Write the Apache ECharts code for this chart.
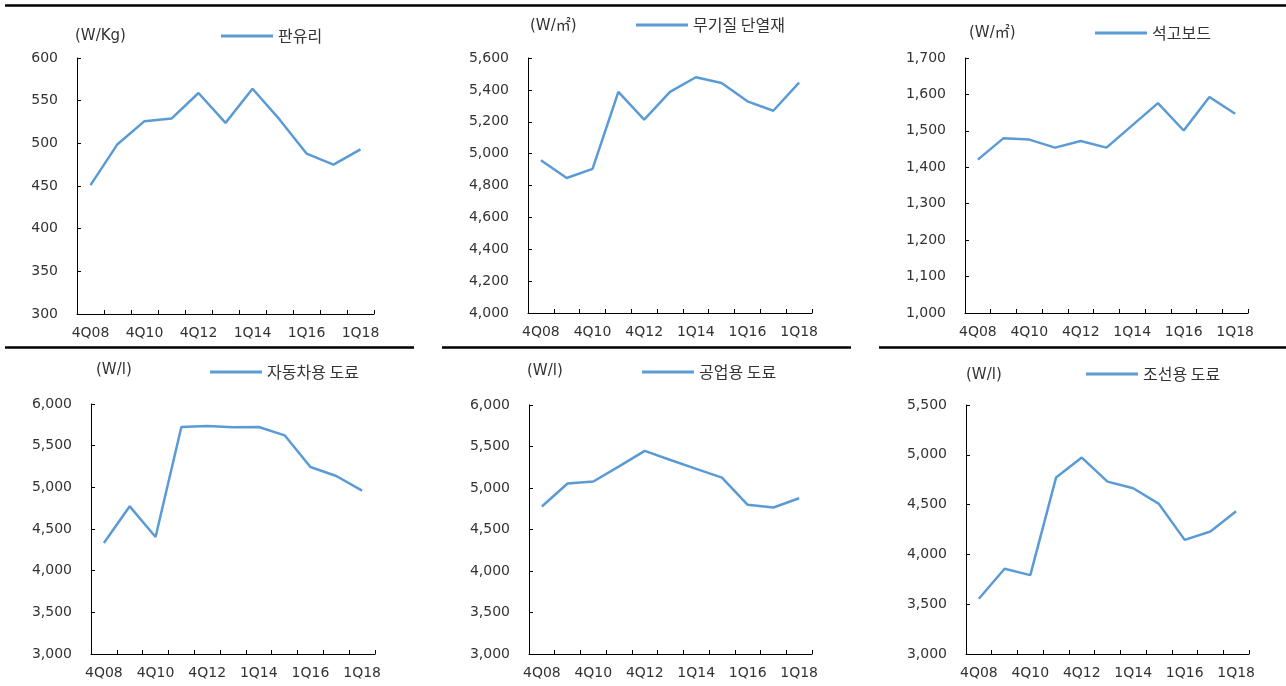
<!DOCTYPE html>
<html>
<head>
<meta charset="utf-8">
<script src="https://cdn.jsdelivr.net/npm/echarts@6/dist/echarts.min.js"></script>
<style>
  html, body { margin: 0; padding: 0; background: #fff; }
  #myCharts { width: 1286px; height: 686px; }
</style>
</head>
<body>
<div id="myCharts"></div>
<script>
// 분기 (라벨은 하나 걸러 표시)
const categories = ["4Q08", "4Q09", "4Q10", "4Q11", "4Q12", "2Q13", "1Q14", "3Q14", "1Q16", "3Q16", "1Q18"];

// 패널별 데이터
const glass = [451, 499, 526, 529, 559, 524, 564, 528, 488, 475, 493];          // 판유리
const insulation = [4958, 4847, 4904, 5387, 5213, 5387, 5479, 5443, 5328, 5269, 5445]; // 무기질 단열재
const gypsum = [1421, 1480, 1476, 1454, 1472, 1454, 1515, 1576, 1501, 1593, 1547];   // 석고보드
const autoPaint = [4332, 4772, 4404, 5724, 5736, 5720, 5724, 5624, 5244, 5136, 4960]; // 자동차용 도료
const industPaint = [4777, 5054, 5078, 5260, 5447, 5338, 5230, 5125, 4797, 4765, 4877]; // 공업용 도료
const shipPaint = [3555, 3856, 3792, 4771, 4972, 4731, 4664, 4507, 4146, 4230, 4434];  // 조선용 도료

const seriesNames = ["판유리", "무기질 단열재", "석고보드", "자동차용 도료", "공업용 도료", "조선용 도료"];
const seriesData = [glass, insulation, gypsum, autoPaint, industPaint, shipPaint];
const units = ["(W/Kg)", "(W/㎡)", "(W/㎡)", "(W/l)", "(W/l)", "(W/l)"];
const yMin = [300, 4000, 1000, 3000, 3000, 3000];
const yMax = [600, 5600, 1700, 6000, 6000, 5500];
const yStep = [50, 200, 100, 500, 500, 500];

const myCharts = echarts.init(document.getElementById("myCharts"));

// 위치
const grids = [
  { left: 77, top: 58, width: 297, height: 256 },
  { left: 528, top: 58, width: 284, height: 255 },
  { left: 965, top: 58, width: 283, height: 255 },
  { left: 91, top: 404, width: 284, height: 250 },
  { left: 529, top: 405, width: 283, height: 249 },
  { left: 966, top: 405, width: 283, height: 249 },
];
const unitPos = [[75, 29], [530, 19], [969, 26], [96, 363], [527, 364], [966, 368]];
const legendPos = [[221, 28], [636, 17], [1095, 25], [210, 364], [642, 364], [1086, 366]];

const numFont = "DejaVu Sans";
const krFont = "'Noto Sans CJK KR', 'DejaVu Sans', sans-serif";
const lineColor = "#5B9BD5";
const textColor = "#333";

let option = {
  animation: false,
  title: units.map((u, i) => ({
    text: u,
    left: unitPos[i][0],
    top: unitPos[i][1],
    padding: 0,
    textStyle: { fontFamily: "'DejaVu Sans', 'Noto Sans CJK KR'", fontSize: 15, fontWeight: "normal", color: textColor },
  })),
  legend: seriesNames.map((n, i) => ({
    data: [n],
    left: legendPos[i][0],
    top: legendPos[i][1],
    padding: 0,
    icon: "rect",
    itemWidth: 52,
    itemHeight: 3,
    textStyle: { fontFamily: krFont, fontSize: 16, color: textColor },
  })),
  grid: grids,
  xAxis: grids.map((g, i) => ({
    type: "category",
    gridIndex: i,
    data: categories,
    boundaryGap: true,
    axisLine: { lineStyle: { color: "#000", width: 1 } },
    axisTick: { show: true, inside: true, length: 4, interval: 0, lineStyle: { color: "#000" } },
    axisLabel: { interval: 1, margin: 12, fontFamily: numFont, fontSize: 14, color: textColor },
    splitLine: { show: false },
  })),
  yAxis: grids.map((g, i) => ({
    type: "value",
    gridIndex: i,
    min: yMin[i],
    max: yMax[i],
    interval: yStep[i],
    axisLine: { show: true, lineStyle: { color: "#000", width: 1 } },
    axisTick: { show: true, inside: true, length: 4, lineStyle: { color: "#000" } },
    axisLabel: {
      margin: 19,
      fontFamily: numFont,
      fontSize: 14,
      color: textColor,
      formatter: (v) => v.toLocaleString("en-US"),
    },
    splitLine: { show: false },
  })),
  series: seriesNames.map((n, i) => ({
    name: n,
    type: "line",
    xAxisIndex: i,
    yAxisIndex: i,
    symbol: "none",
    itemStyle: { color: lineColor },
    lineStyle: { color: lineColor, width: 2.5 },
    data: seriesData[i],
  })),
  graphic: [
    // 구분선
    { type: "line", shape: { x1: 5, y1: 5.5, x2: 1286, y2: 5.5 }, style: { stroke: "#000", lineWidth: 2.5 } },
    { type: "line", shape: { x1: 5, y1: 347.5, x2: 414, y2: 347.5 }, style: { stroke: "#000", lineWidth: 2.5 } },
    { type: "line", shape: { x1: 442, y1: 347.5, x2: 851, y2: 347.5 }, style: { stroke: "#000", lineWidth: 2.5 } },
    { type: "line", shape: { x1: 879, y1: 347.5, x2: 1286, y2: 347.5 }, style: { stroke: "#000", lineWidth: 2.5 } },
  ],
};

myCharts.setOption(option);
</script>
</body>
</html>
